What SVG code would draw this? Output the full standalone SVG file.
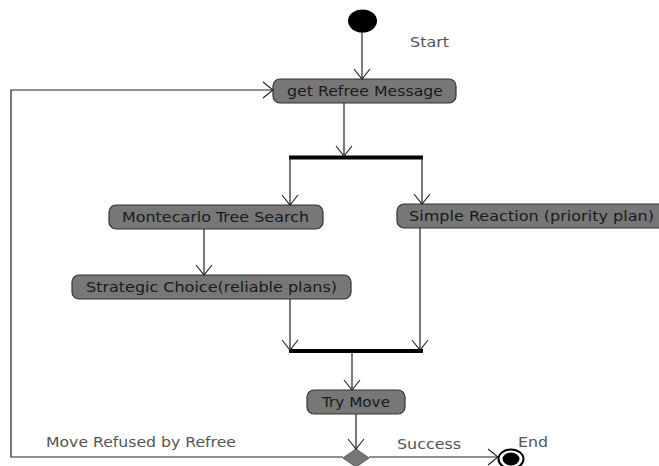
<svg xmlns="http://www.w3.org/2000/svg" width="659" height="466" viewBox="0 0 659 466">
<style>
  .act rect { fill: #777; stroke: #333; stroke-width: 1.2; }
  .act text { font-family: "DejaVu Sans", sans-serif; font-size: 14px; fill: #1a1a1a; }
  .lbl { font-family: "DejaVu Sans", sans-serif; font-size: 14px; fill: #555; }
  .edge { fill: none; stroke: #222; stroke-width: 1.2; }
  .bar { fill: #000; }
</style>
<defs>
  <marker id="open" viewBox="0 0 12 18" refX="11" refY="9" markerWidth="12" markerHeight="18" markerUnits="userSpaceOnUse" orient="auto">
    <path d="M1,1 L11,9 L1,17" fill="none" stroke="#222" stroke-width="1.1"/>
  </marker>
</defs>
<rect width="659" height="466" fill="#fff"/>

<g id="start">
  <ellipse cx="362.5" cy="21" rx="14.5" ry="11.5" fill="#000"/>
  <text class="lbl" x="410" y="47" textLength="39" lengthAdjust="spacingAndGlyphs">Start</text>
</g>

<g id="getMessage" class="act">
  <rect x="273" y="79" width="183" height="24" rx="7"/>
  <text x="287" y="96" textLength="156" lengthAdjust="spacingAndGlyphs">get Refree Message</text>
</g>

<g id="fork">
  <rect class="bar" x="289" y="155.5" width="134" height="4"/>
</g>

<g id="montecarlo" class="act">
  <rect x="109" y="205" width="214" height="24" rx="7"/>
  <text x="122" y="222" textLength="187" lengthAdjust="spacingAndGlyphs">Montecarlo Tree Search</text>
</g>

<g id="simpleReaction" class="act">
  <rect x="397" y="204" width="270" height="24" rx="7"/>
  <text x="409" y="221" textLength="245" lengthAdjust="spacingAndGlyphs">Simple Reaction (priority plan)</text>
</g>

<g id="strategicChoice" class="act">
  <rect x="72" y="275" width="279" height="24" rx="7"/>
  <text x="86" y="292" textLength="251" lengthAdjust="spacingAndGlyphs">Strategic Choice(reliable plans)</text>
</g>

<g id="join">
  <rect class="bar" x="289" y="349" width="134" height="4"/>
</g>

<g id="tryMove" class="act">
  <rect x="307" y="390" width="98" height="24" rx="7"/>
  <text x="322" y="407" textLength="68" lengthAdjust="spacingAndGlyphs">Try Move</text>
</g>

<g id="decision">
  <path d="M356,449 L369,458 L356,467 L343,458 Z" fill="#777" stroke="#555" stroke-width="1"/>
</g>

<g id="end">
  <ellipse cx="511" cy="459" rx="12.5" ry="9.5" fill="#fff" stroke="#000" stroke-width="2"/>
  <ellipse cx="511" cy="459" rx="8.5" ry="6.5" fill="#000"/>
  <text class="lbl" x="518" y="447" textLength="30" lengthAdjust="spacingAndGlyphs">End</text>
</g>

<g id="connectors">
  <path class="edge" d="M362,32 V79" marker-end="url(#open)"/>
  <path class="edge" d="M344,103 V156" marker-end="url(#open)"/>
  <path class="edge" d="M290,158 V205" marker-end="url(#open)"/>
  <path class="edge" d="M422,158 V204" marker-end="url(#open)"/>
  <path class="edge" d="M204,229 V275" marker-end="url(#open)"/>
  <path class="edge" d="M290,299 V350" marker-end="url(#open)"/>
  <path class="edge" d="M420,228 V350" marker-end="url(#open)"/>
  <path class="edge" d="M352,353 V390" marker-end="url(#open)"/>
  <path class="edge" d="M356,414 V449" marker-end="url(#open)"/>
  <path class="edge" d="M343,457 H11 V90 H273" marker-end="url(#open)"/>
  <path class="edge" d="M369,457 H498" marker-end="url(#open)"/>
  <text class="lbl" x="46" y="447" textLength="190" lengthAdjust="spacingAndGlyphs">Move Refused by Refree</text>
  <text class="lbl" x="397" y="449" textLength="64" lengthAdjust="spacingAndGlyphs">Success</text>
</g>
</svg>
